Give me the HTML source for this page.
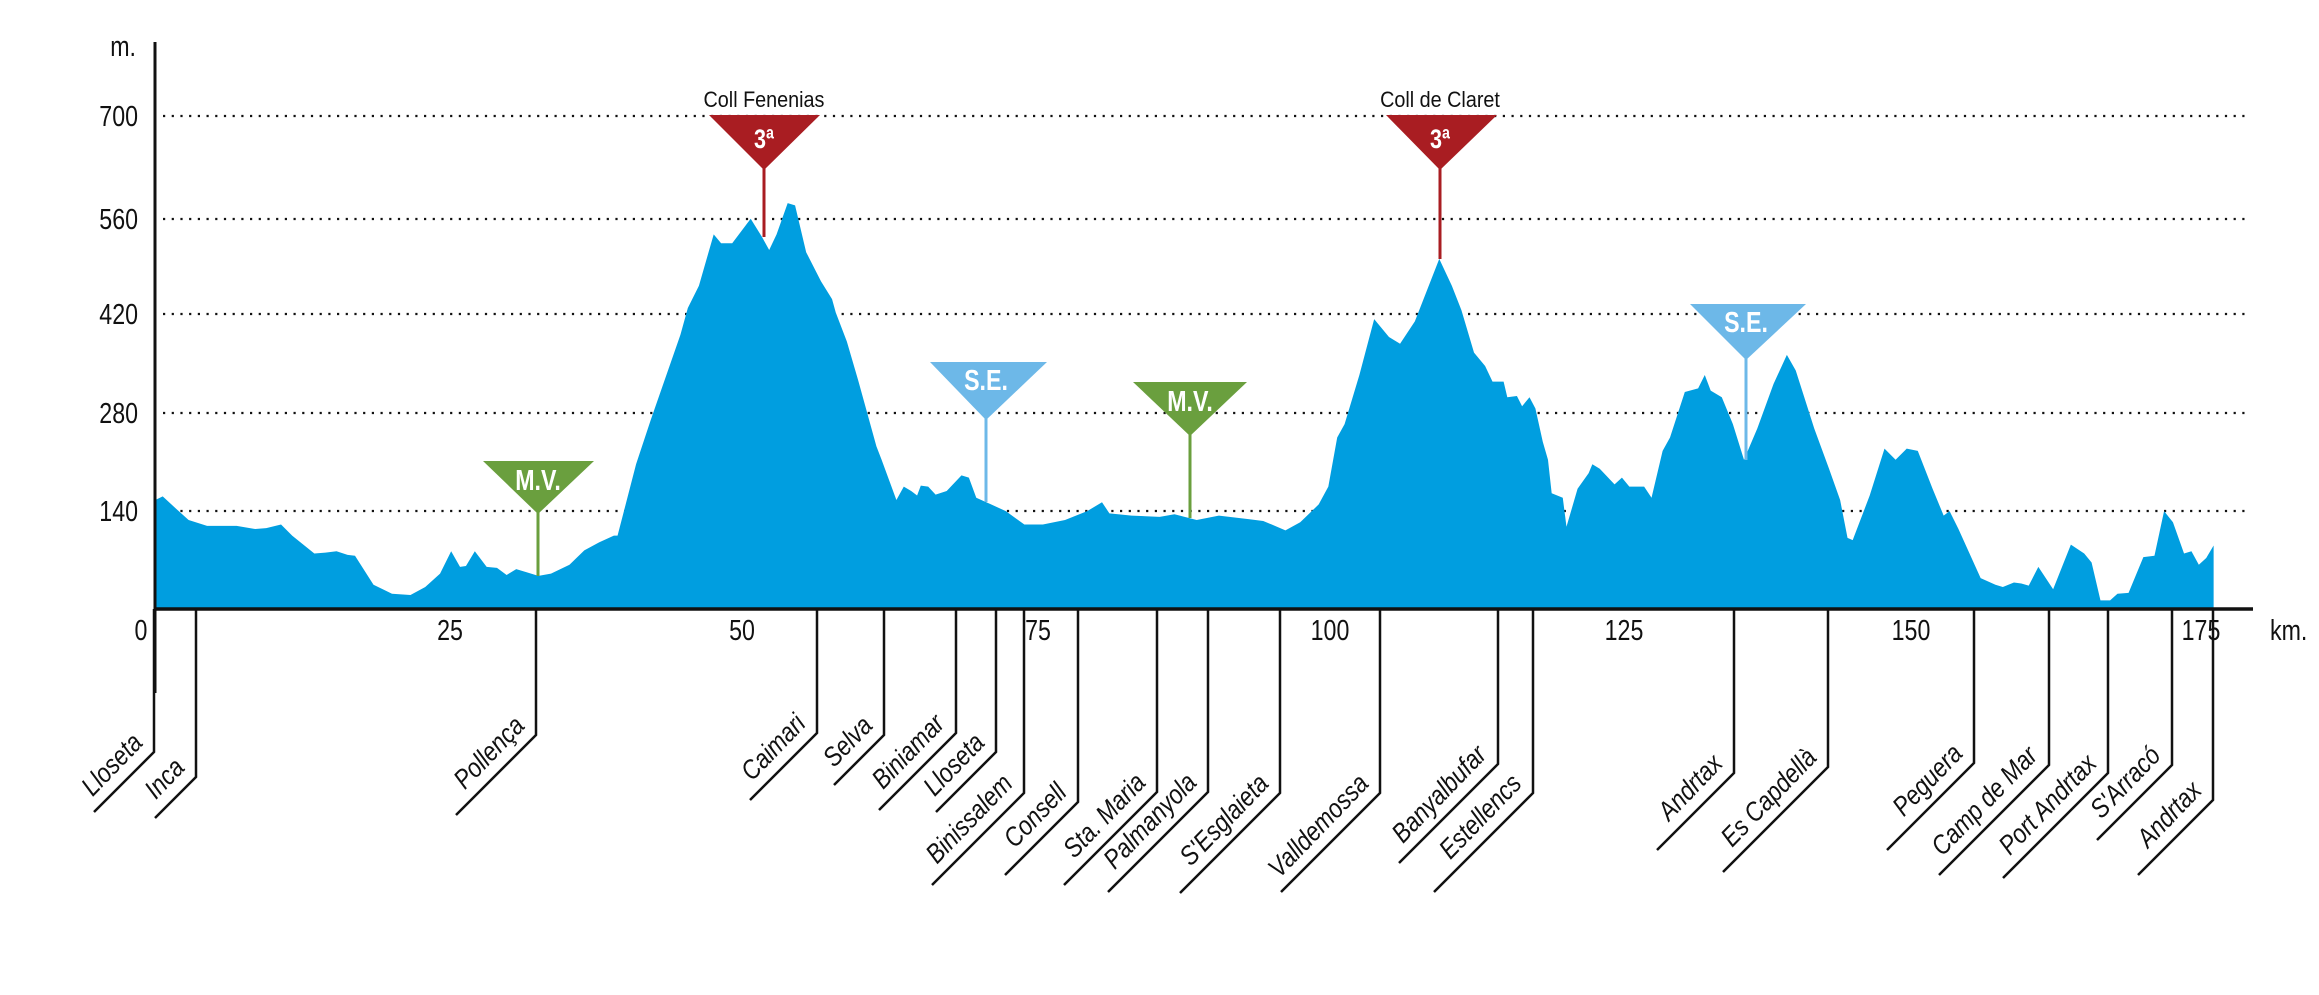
<!DOCTYPE html>
<html><head><meta charset="utf-8"><style>
html,body{margin:0;padding:0;background:#fff;}
svg{display:block;}
text{font-family:"Liberation Sans",sans-serif;}
.tk{font-size:29px;fill:#111;}
.lb{font-size:27px;font-style:italic;fill:#111;}
.mk{font-size:29px;font-weight:bold;fill:#fff;}
</style></head><body>
<svg width="2319" height="995" viewBox="0 0 2319 995" xmlns="http://www.w3.org/2000/svg">
<g stroke="#111" stroke-width="2.2" stroke-dasharray="2.2,6.5">
<line x1="163" y1="116" x2="2250" y2="116"/>
<line x1="163" y1="219" x2="2250" y2="219"/>
<line x1="163" y1="314" x2="2250" y2="314"/>
<line x1="163" y1="413" x2="2250" y2="413"/>
<line x1="163" y1="511" x2="2250" y2="511"/>
</g>
<path fill="#009ee0" transform="scale(0.7396,0.4464)" d="M210,1362 L210,1120 220,1112 235,1135 255,1165 280,1178 320,1178 345,1185 360,1183 380,1175 395,1200 425,1240 440,1238 455,1235 470,1243 480,1245 505,1310 530,1330 555,1333 575,1315 595,1285 610,1235 622,1270 630,1268 642,1235 658,1270 672,1272 685,1288 698,1275 712,1282 728,1290 745,1285 770,1265 790,1233 810,1215 830,1200 835,1200 860,1040 880,940 920,750 930,690 945,640 965,525 975,545 990,545 1015,490 1030,530 1040,560 1050,525 1065,455 1075,460 1090,565 1110,630 1125,670 1130,700 1145,765 1160,850 1185,1000 1192,1030 1212,1120 1222,1090 1232,1100 1240,1110 1245,1088 1255,1090 1265,1108 1280,1100 1300,1065 1310,1070 1320,1115 1340,1130 1360,1145 1385,1175 1410,1175 1440,1165 1470,1145 1490,1125 1500,1150 1530,1155 1568,1158 1588,1152 1618,1165 1648,1155 1688,1163 1708,1167 1738,1188 1758,1170 1783,1130 1796,1090 1808,980 1818,950 1838,840 1858,715 1878,755 1893,770 1913,720 1946,580 1963,640 1976,695 1993,790 2008,820 2018,855 2033,855 2038,890 2051,887 2058,910 2068,890 2076,915 2086,990 2093,1030 2098,1105 2113,1115 2118,1180 2133,1095 2148,1060 2153,1040 2163,1050 2183,1085 2193,1070 2203,1090 2223,1090 2233,1115 2248,1010 2258,980 2278,878 2296,870 2305,840 2313,875 2328,890 2343,950 2358,1030 2376,960 2398,860 2416,795 2428,830 2453,960 2473,1050 2488,1120 2498,1205 2505,1210 2528,1110 2548,1005 2563,1030 2578,1005 2593,1010 2613,1095 2628,1155 2636,1145 2648,1185 2678,1295 2698,1310 2708,1315 2723,1305 2733,1307 2743,1312 2756,1270 2776,1320 2800,1220 2818,1240 2828,1260 2840,1345 2853,1345 2863,1330 2878,1328 2898,1248 2913,1245 2926,1145 2938,1170 2953,1240 2963,1235 2973,1265 2983,1250 2993,1222 2993,1362 Z"/>
<line x1="155" y1="42" x2="155" y2="693" stroke="#111" stroke-width="3"/>
<line x1="154" y1="609" x2="2253" y2="609" stroke="#111" stroke-width="3.5"/>
<text class="tk" x="0" y="0" transform="translate(136,56) scale(0.8,1)" text-anchor="end">m.</text>
<g class="tk" text-anchor="end">
<text transform="translate(138,126) scale(0.8,1)">700</text>
<text transform="translate(138,229) scale(0.8,1)">560</text>
<text transform="translate(138,324) scale(0.8,1)">420</text>
<text transform="translate(138,423) scale(0.8,1)">280</text>
<text transform="translate(138,521) scale(0.8,1)">140</text>
</g>
<g class="tk" text-anchor="middle">
<text transform="translate(141,640) scale(0.8,1)">0</text>
<text transform="translate(450,640) scale(0.8,1)">25</text>
<text transform="translate(742,640) scale(0.8,1)">50</text>
<text transform="translate(1038,640) scale(0.8,1)">75</text>
<text transform="translate(1330,640) scale(0.8,1)">100</text>
<text transform="translate(1624,640) scale(0.8,1)">125</text>
<text transform="translate(1911,640) scale(0.8,1)">150</text>
<text transform="translate(2201,640) scale(0.8,1)">175</text>
<text transform="translate(2270,640) scale(0.8,1)" text-anchor="start">km.</text>
</g>
<text x="764" y="107" font-size="22" text-anchor="middle" fill="#111" transform="translate(764,0) scale(0.9,1) translate(-764,0)">Coll Fenenias</text>
<line x1="764" y1="165" x2="764" y2="237" stroke="#a91d22" stroke-width="3"/>
<polygon points="709,115 820,115 764,170" fill="#a91d22"/>
<text class="mk" transform="translate(764,148) scale(0.8,1)" text-anchor="middle" style="font-size:27px">3ª</text>

<text x="1440" y="107" font-size="22" text-anchor="middle" fill="#111" transform="translate(1440,0) scale(0.9,1) translate(-1440,0)">Coll de Claret</text>
<line x1="1440" y1="165" x2="1440" y2="259" stroke="#a91d22" stroke-width="3"/>
<polygon points="1386,115 1497,115 1440,170" fill="#a91d22"/>
<text class="mk" transform="translate(1440,148) scale(0.8,1)" text-anchor="middle" style="font-size:27px">3ª</text>

<line x1="538" y1="505" x2="538" y2="576" stroke="#6a9f3e" stroke-width="3"/>
<polygon points="483,461 594,461 538,514" fill="#6a9f3e"/>
<text class="mk" transform="translate(538,490) scale(0.8,1)" text-anchor="middle">M.V.</text>

<line x1="1190" y1="428" x2="1190" y2="518" stroke="#6a9f3e" stroke-width="3"/>
<polygon points="1133,382 1247,382 1190,436" fill="#6a9f3e"/>
<text class="mk" transform="translate(1190,411) scale(0.8,1)" text-anchor="middle">M.V.</text>

<line x1="986" y1="412" x2="986" y2="502" stroke="#6db8e8" stroke-width="3"/>
<polygon points="930,362 1047,362 986,420" fill="#6db8e8"/>
<text class="mk" transform="translate(986,390) scale(0.8,1)" text-anchor="middle">S.E.</text>

<line x1="1746" y1="352" x2="1746" y2="460" stroke="#6db8e8" stroke-width="3"/>
<polygon points="1690,304 1806,304 1746,360" fill="#6db8e8"/>
<text class="mk" transform="translate(1746,332) scale(0.8,1)" text-anchor="middle">S.E.</text>

<g stroke="#111" stroke-width="2.5" fill="none">
<polyline points="154,609 154,752 94,812"/>
<polyline points="196,609 196,777 155,818"/>
<polyline points="536,609 536,735 456,815"/>
<polyline points="817,609 817,733 750,800"/>
<polyline points="884,609 884,735 834,785"/>
<polyline points="956,609 956,733 879,810"/>
<polyline points="996,609 996,752 936,812"/>
<polyline points="1024,609 1024,793 932,885"/>
<polyline points="1078,609 1078,802 1005,875"/>
<polyline points="1157,609 1157,792 1064,885"/>
<polyline points="1208,609 1208,792 1108,892"/>
<polyline points="1280,609 1280,793 1180,893"/>
<polyline points="1380,609 1380,793 1281,892"/>
<polyline points="1498,609 1498,764 1399,863"/>
<polyline points="1533,609 1533,793 1434,892"/>
<polyline points="1734,609 1734,773 1657,850"/>
<polyline points="1828,609 1828,767 1723,872"/>
<polyline points="1974,609 1974,763 1887,850"/>
<polyline points="2049,609 2049,765 1939,875"/>
<polyline points="2108,609 2108,773 2003,878"/>
<polyline points="2172,609 2172,765 2097,840"/>
<polyline points="2213,609 2213,800 2138,875"/>
</g>
<g class="lb" text-anchor="end">
<text transform="translate(144,744) rotate(-46) scale(0.85,1)">Lloseta</text>
<text transform="translate(186,769) rotate(-46) scale(0.85,1)">Inca</text>
<text transform="translate(526,727) rotate(-46) scale(0.85,1)">Pollença</text>
<text transform="translate(807,725) rotate(-46) scale(0.85,1)">Caimari</text>
<text transform="translate(874,727) rotate(-46) scale(0.85,1)">Selva</text>
<text transform="translate(946,725) rotate(-46) scale(0.85,1)">Biniamar</text>
<text transform="translate(986,744) rotate(-46) scale(0.85,1)">Lloseta</text>
<text transform="translate(1014,785) rotate(-46) scale(0.85,1)">Binissalem</text>
<text transform="translate(1068,794) rotate(-46) scale(0.85,1)">Consell</text>
<text transform="translate(1147,784) rotate(-46) scale(0.85,1)">Sta. Maria</text>
<text transform="translate(1198,784) rotate(-46) scale(0.85,1)">Palmanyola</text>
<text transform="translate(1270,785) rotate(-46) scale(0.85,1)">S'Esglaieta</text>
<text transform="translate(1370,785) rotate(-46) scale(0.85,1)">Valldemossa</text>
<text transform="translate(1488,756) rotate(-46) scale(0.85,1)">Banyalbufar</text>
<text transform="translate(1523,785) rotate(-46) scale(0.85,1)">Estellencs</text>
<text transform="translate(1724,765) rotate(-46) scale(0.85,1)">Andrtax</text>
<text transform="translate(1818,759) rotate(-46) scale(0.85,1)">Es Capdellà</text>
<text transform="translate(1964,755) rotate(-46) scale(0.85,1)">Peguera</text>
<text transform="translate(2039,757) rotate(-46) scale(0.85,1)">Camp de Mar</text>
<text transform="translate(2098,765) rotate(-46) scale(0.85,1)">Port Andrtax</text>
<text transform="translate(2162,757) rotate(-46) scale(0.85,1)">S'Arracó</text>
<text transform="translate(2203,792) rotate(-46) scale(0.85,1)">Andrtax</text>
</g>
</svg>
</body></html>
